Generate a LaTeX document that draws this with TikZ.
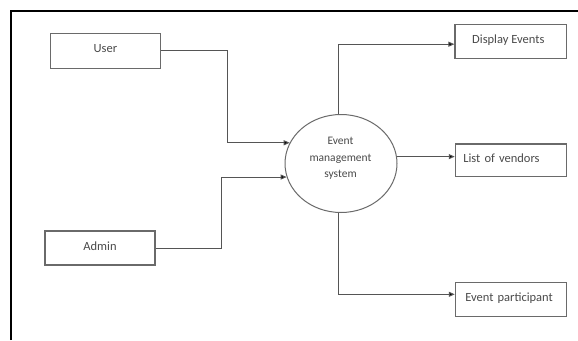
\documentclass[tikz,border=0pt]{standalone}
\usepackage{fontspec}
\setmainfont{Carlito}
\usetikzlibrary{shapes.geometric,arrows.meta}
\definecolor{boxline}{HTML}{6A6A6A}
\definecolor{flowline}{HTML}{555555}
\definecolor{txt}{HTML}{4A4A4A}
\tikzset{
  entity/.style={draw=boxline, line width=1.1pt, minimum width=111pt, minimum height=34.5pt,
    inner sep=0pt, text=txt, font=\fontsize{12.5}{14}\selectfont, text height=9pt, text depth=5pt},
  leftbox/.style={entity, align=left, text width=95pt, inner xsep=8pt},
  process/.style={draw=boxline, line width=1pt, ellipse, minimum width=112pt, minimum height=98pt, inner sep=0pt},
  flow/.style={draw=flowline, line width=1pt, -{Triangle[length=6pt,width=5pt,fill=black]}},
}
\begin{document}
\begin{tikzpicture}[x=1pt,y=-1pt]
\useasboundingbox (0,0) rectangle (578,340);
\fill[white] (0,0) rectangle (578,340);
% frame
\draw[black, line width=1.4pt] (10.8,340) -- (10.8,11) -- (578,11);
% nodes
\node[entity, minimum width=110.7pt, minimum height=35pt] (user) at (105.4,50.8) {User};
\node[entity, minimum width=110pt, minimum height=34pt] (admin) at (100,248) {Admin};
\node[process] (ems) at (341,163.5) {};
\node[text=txt, font=\fontsize{11.5}{16.7}\selectfont, align=center] (emslabel) at (340.5,158.5) {Event\\management\\system};
\node[entity, minimum width=111.7pt, minimum height=34.3pt, xshift=0pt] (disp) at (510.8,41.2) {\hspace*{-5pt}Display Events};
\node[leftbox, minimum height=32.7pt] (vend) at (510.8,160.3) {List of vendors};
\node[leftbox, minimum height=34pt] (part) at (510.8,299.7) {\hspace*{2pt}Event participant};
% flows
\draw[flow] (user.east) -- ++(66,0) |- (ems.158);
\draw[flow] (admin.east) -- ++(65.7,0) |- (ems.194);
\draw[flow] (ems.93) |- ([yshift=-3pt]disp.west);
\draw[flow] (ems.7) -- (ems.7 -| vend.west);
\draw[flow] (ems.267) |- ([yshift=5.4pt]part.west);
\end{tikzpicture}
\end{document}
